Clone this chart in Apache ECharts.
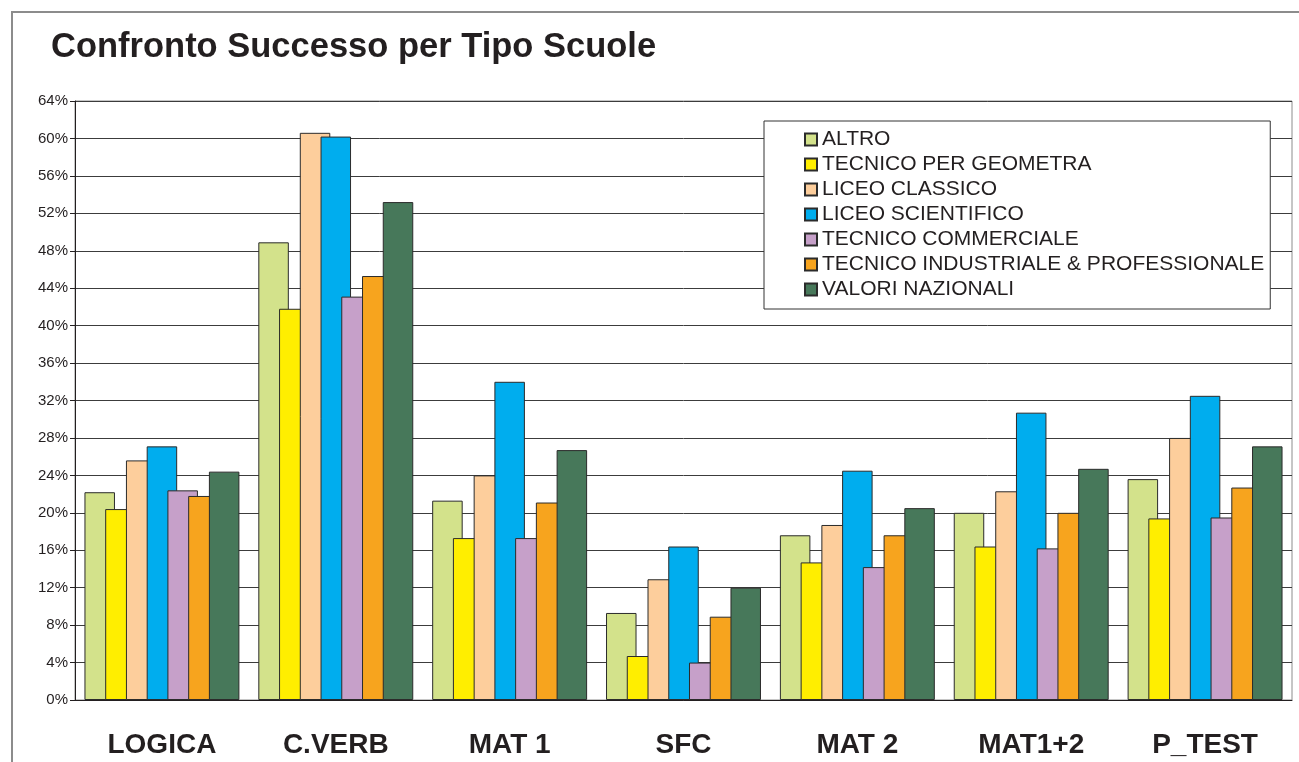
<!DOCTYPE html>
<html>
<head>
<meta charset="utf-8">
<title>Confronto Successo per Tipo Scuole</title>
<script src="https://cdn.jsdelivr.net/npm/echarts@6/dist/echarts.min.js"></script>
<style>
  html, body { margin: 0; padding: 0; background: #fff; }
  #chart { width: 1299px; height: 762px; }
</style>
</head>
<body>
<div id="chart"></div>
<script>
  // categorie (asse x)
  const categories = ['LOGICA', 'C.VERB', 'MAT 1', 'SFC', 'MAT 2', 'MAT1+2', 'P_TEST'];
  // tick asse y
  const yMin = 0, yMax = 64, yStep = 4;

  // valori in percentuale
  const altro       = [22.2, 48.9, 21.3,  9.3, 17.6, 20.0, 23.6];
  const geometra    = [20.4, 41.8, 17.3,  4.7, 14.7, 16.4, 19.4];
  const classico    = [25.6, 60.6, 24.0, 12.9, 18.7, 22.3, 28.0];
  const scientifico = [27.1, 60.2, 34.0, 16.4, 24.5, 30.7, 32.5];
  const commerciale = [22.4, 43.1, 17.3,  4.0, 14.2, 16.2, 19.5];
  const industriale = [21.8, 45.3, 21.1,  8.9, 17.6, 20.0, 22.7];
  const nazionali   = [24.4, 53.2, 26.7, 12.0, 20.5, 24.7, 27.1];

  const seriesNames = ['ALTRO', 'TECNICO PER GEOMETRA', 'LICEO CLASSICO', 'LICEO SCIENTIFICO',
    'TECNICO COMMERCIALE', 'TECNICO INDUSTRIALE & PROFESSIONALE', 'VALORI NAZIONALI'];
  const seriesData = [altro, geometra, classico, scientifico, commerciale, industriale, nazionali];
  const colors = ['#d3e28b', '#ffee00', '#fdce9c', '#00adee', '#c6a0c9', '#f7a41e', '#47785a'];

  const font = '"Liberation Sans", Arial, sans-serif';

  const chart = echarts.init(document.getElementById('chart'));

  chart.setOption({
    animation: false,
    color: colors,
    textStyle: { fontFamily: font },
    title: {
      text: 'Confronto Successo per Tipo Scuole',
      left: 46,
      top: 25,
      textStyle: { fontSize: 34.5, fontWeight: 'bold', color: '#231f20', fontFamily: font }
    },
    // cornice esterna
    graphic: [{
      type: 'rect',
      silent: true,
      z: -1,
      shape: { x: 12, y: 12, width: 1400, height: 900 },
      style: { fill: 'none', stroke: '#8c8c8c', lineWidth: 2 }
    }],
    legend: {
      orient: 'vertical',
      left: 764,
      top: 121,
      padding: [8, 6, 9, 40],
      backgroundColor: '#fff',
      borderColor: '#333',
      borderWidth: 1,
      itemWidth: 12,
      itemHeight: 12,
      itemGap: 4,
      icon: 'rect',
      data: seriesNames,
      textStyle: { fontSize: 21, lineHeight: 20, color: '#231f20', fontFamily: font }
    },
    grid: {
      left: 75,
      right: 7,
      top: 101,
      bottom: 62,
      show: true,
      borderColor: '#8c8c8c',
      borderWidth: 1
    },
    xAxis: {
      type: 'category',
      data: categories,
      axisLine: { lineStyle: { color: '#231f20', width: 1 } },
      axisTick: { length: 7, lineStyle: { color: '#231f20' } },
      axisLabel: {
        margin: 31,
        fontSize: 28,
        fontWeight: 'bold',
        color: '#231f20',
        fontFamily: font
      }
    },
    yAxis: {
      type: 'value',
      min: yMin,
      max: yMax,
      interval: yStep,
      axisLine: { show: true, lineStyle: { color: '#231f20', width: 1 } },
      axisTick: { show: true, length: 5, lineStyle: { color: '#231f20' } },
      splitLine: { lineStyle: { color: '#3c3c3c', width: 1 } },
      axisLabel: {
        margin: 7,
        fontSize: 15,
        color: '#231f20',
        fontFamily: font,
        formatter: '{value}%'
      }
    },
    series: seriesData.map(function (data, i) {
      return {
        name: seriesNames[i],
        type: 'bar',
        data: data,
        barWidth: 30.5,
        barGap: '-32%',
        itemStyle: {
          borderColor: '#2b2b2b',
          borderWidth: 1
        }
      };
    })
  });
</script>
</body>
</html>
